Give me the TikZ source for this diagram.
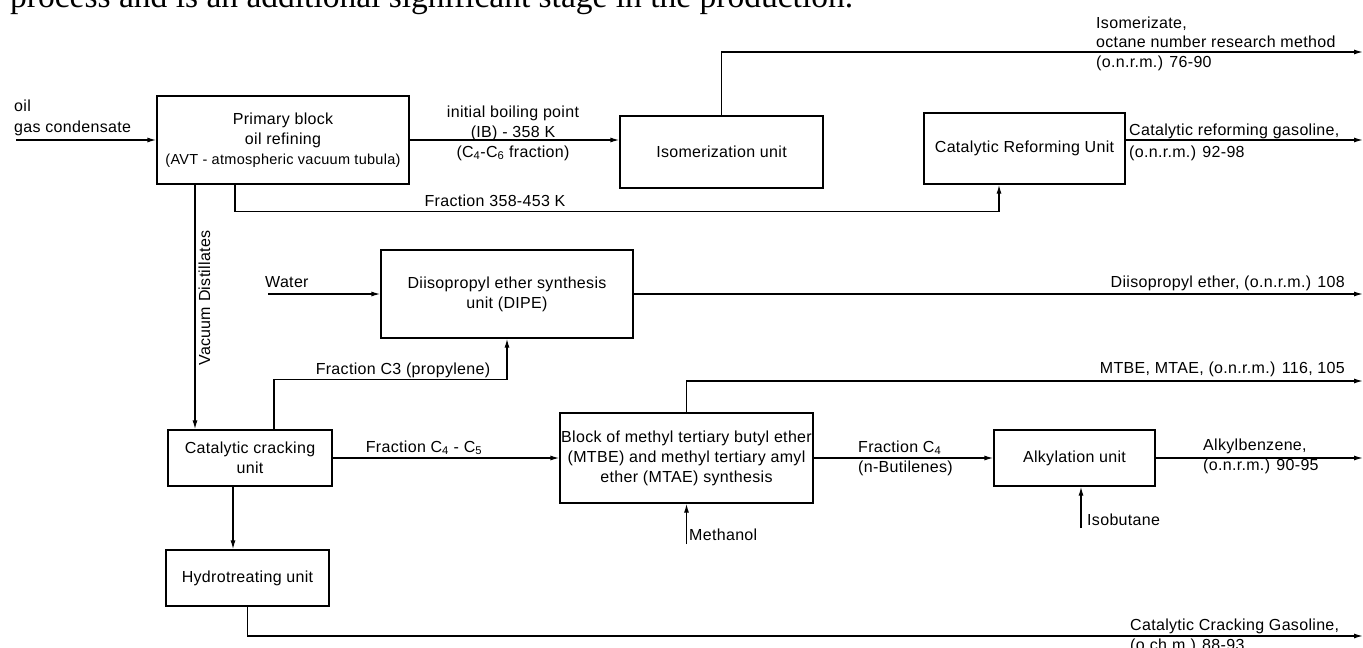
\documentclass[tikz,border=0pt]{standalone}
\usepackage{fontspec}
\setmainfont[LetterSpace=2]{Liberation Sans}
\newfontfamily\serifhead{Liberation Serif}
\usetikzlibrary{arrows.meta,calc}
\begin{document}
\begin{tikzpicture}[x=1pt,y=-1pt,
  every node/.style={font=\fontsize{16}{20}\selectfont},
  unit/.style={draw, line width=1.3pt, align=center, inner sep=1pt},
  lbl/.style={inner sep=0pt},
  flow/.style={line width=1.3pt, -{Latex[length=9pt,width=5pt]}}]
\clip (0,0) rectangle (1363,648);

% heading text (cut off at the top)
\node[lbl, anchor=base west, font=\serifhead\fontsize{33.5}{40}\selectfont] (head) at (10,7) {process and is an additional significant stage in the production.};

% units
\node[unit, minimum width=252pt, minimum height=88pt] (prim) at (283,140) {Primary block\\oil refining\\{\fontsize{14.5}{18}\selectfont(AVT - atmospheric vacuum tubula)}};
\node[unit, minimum width=203pt, minimum height=72pt] (iso) at (721.5,152) {Isomerization unit};
\node[unit, minimum width=201pt, minimum height=71pt] (cru) at (1024.5,148.5) {Catalytic Reforming Unit};
\node[unit, minimum width=252pt, minimum height=88pt] (dipe) at (507,294) {Diisopropyl ether synthesis\\unit (DIPE)};
\node[unit, minimum width=164pt, minimum height=56pt] (ccu) at (250,458) {Catalytic cracking\\unit};
\node[unit, minimum width=253pt, minimum height=90pt] (mtbe) at (686.5,458) {Block of methyl tertiary butyl ether\\(MTBE) and methyl tertiary amyl\\ether (MTAE) synthesis};
\node[unit, minimum width=161pt, minimum height=56pt] (alk) at (1074.5,458) {Alkylation unit};
\node[unit, minimum width=163pt, minimum height=56pt] (hyd) at (247.5,578) {Hydrotreating unit};

% free ends and branch points
\coordinate (feed) at (16,140);
\coordinate (isoOut) at (1363,52);
\coordinate (cruOut) at (1363,140);
\coordinate (water) at (268,294);
\coordinate (dipeOut) at (1363,294);
\coordinate (mtbeOut) at (1363,381);
\coordinate (meoh) at (686.5,544);
\coordinate (alkOut) at (1363,458);
\coordinate (ibut) at (1081,528);
\coordinate (ccgOut) at (1363,636);
\coordinate (primF) at ([xshift=-48pt]prim.south);
\coordinate (primV) at ([xshift=-88pt]prim.south);
\coordinate (cruIn) at ([xshift=-25.5pt]cru.south);
\coordinate (ccuC3) at ([xshift=24pt]ccu.north);
\coordinate (ccuH) at ([xshift=-17pt]ccu.south);

% connectors
\draw[flow] (feed) -- (prim.west);
\draw[flow] (prim.east) -- (prim.east -| iso.west);
\draw[flow] (iso.north) |- (isoOut);
\draw[flow] (primF) |- ($(cruIn)+(0,27)$) -- (cruIn);
\draw[flow] (cru.east |- prim.east) -- (cruOut);
\draw[flow] (primV) -- (primV |- ccu.north);
\draw[flow] (water) -- (dipe.west);
\draw[flow] (dipe.east) -- (dipeOut);
\draw[flow] (ccuC3) |- ($(dipe.south)+(0,41)$) -- (dipe.south);
\draw[flow] (ccu.east) -- (mtbe.west);
\draw[flow] (mtbe.north) |- (mtbeOut);
\draw[flow] (meoh) -- (mtbe.south);
\draw[flow] (mtbe.east) -- (alk.west);
\draw[flow] (ibut) -- (ibut |- alk.south);
\draw[flow] (alk.east) -- (alkOut);
\draw[flow] (ccuH) -- (ccuH |- hyd.north);
\draw[flow] (hyd.south) |- (ccgOut);

% labels
\node[lbl, anchor=base west] (tOil) at (14,111) {oil};
\node[lbl, anchor=base west] (tGas) at (14,132) {gas condensate};
\node[lbl, anchor=base] (tIB1) at (513,117) {initial boiling point};
\node[lbl, anchor=base] (tIB2) at (513,137) {(IB) - 358 K};
\node[lbl, anchor=base] (tIB3) at (513,157) {(C\textsubscript{4}-C\textsubscript{6} fraction)};
\node[lbl, anchor=base west] (tIso1) at (1096,28) {Isomerizate,};
\node[lbl, anchor=base west] (tIso2) at (1096,47) {octane number research method};
\node[lbl, anchor=base west] (tIso3) at (1096,67) {(o.n.r.m.) 76-90};
\node[lbl, anchor=base west] (tCr1) at (1129,135) {Catalytic reforming gasoline,};
\node[lbl, anchor=base west] (tCr2) at (1129,157) {(o.n.r.m.) 92-98};
\node[lbl, anchor=base] (tF358) at (495,206) {Fraction 358-453 K};
\node[lbl, rotate=90] (tVac) at (204.5,298) {Vacuum Distillates};
\node[lbl, anchor=base west] (tWater) at (265,287) {Water};
\node[lbl, anchor=base east] (tDipe) at (1345,287) {Diisopropyl ether, (o.n.r.m.) 108};
\node[lbl, anchor=base] (tC3) at (403,374) {Fraction C3 (propylene)};
\node[lbl, anchor=base east] (tMtbe) at (1345,373) {MTBE, MTAE, (o.n.r.m.) 116, 105};
\node[lbl, anchor=base] (tC45) at (424,452) {Fraction C\textsubscript{4} - C\textsubscript{5}};
\node[lbl, anchor=base west] (tC4a) at (858,452) {Fraction C\textsubscript{4}};
\node[lbl, anchor=base west] (tC4b) at (858,472) {(n-Butilenes)};
\node[lbl, anchor=base west] (tAlk1) at (1203,450) {Alkylbenzene,};
\node[lbl, anchor=base west] (tAlk2) at (1203,470) {(o.n.r.m.) 90-95};
\node[lbl, anchor=base west] (tMeoh) at (689,540) {Methanol};
\node[lbl, anchor=base west] (tIbut) at (1087,525) {Isobutane};
\node[lbl, anchor=base west] (tCcg1) at (1130,630) {Catalytic Cracking Gasoline,};
\node[lbl, anchor=base west] (tCcg2) at (1130,650) {(o.ch.m.) 88-93};
\end{tikzpicture}
\end{document}
